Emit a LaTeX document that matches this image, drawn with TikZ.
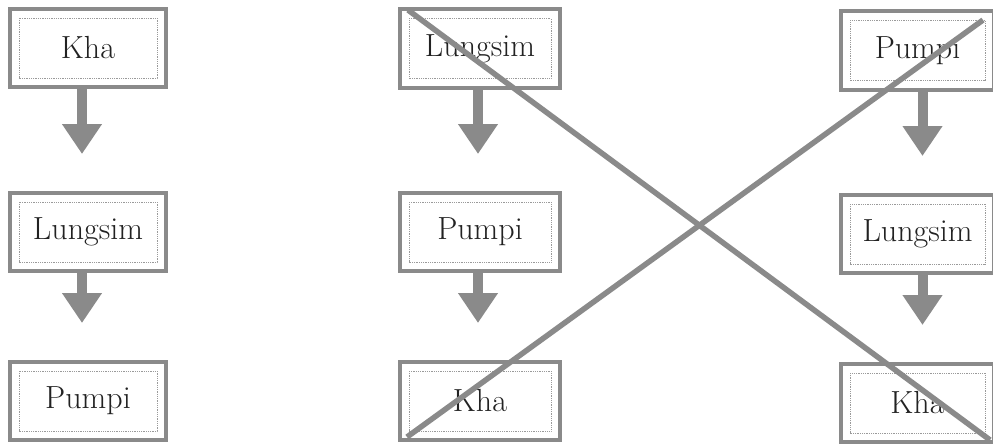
\documentclass[tikz,border=0pt]{standalone}
\usetikzlibrary{arrows.meta}
\definecolor{boxgray}{HTML}{8A8A8A}
\definecolor{dotgray}{HTML}{9A9A9A}
\definecolor{txt}{HTML}{222222}
\begin{document}
\begin{tikzpicture}[x=1pt,y=-1pt,
  flowbox/.style={draw=boxgray, line width=4pt, fill=white, text=txt,
    minimum height=78pt, inner sep=0pt,
    font=\fontsize{32}{38}\selectfont,
    path picture={\draw[dotgray, line width=0.8pt, densely dotted]
      ([shift={(9pt,-9pt)}]path picture bounding box.north west) rectangle
      ([shift={(-9pt,9pt)}]path picture bounding box.south east);}},
  flowarrow/.style={draw=boxgray, line width=10pt,
    -{Triangle[width=38pt,length=30pt]}, shorten >=37pt},
  strike/.style={draw=boxgray, line width=5.5pt}]
\clip (0,0) rectangle (993,444);
\useasboundingbox (0,0) rectangle (993,444);
% column 1
\node[flowbox, minimum width=156pt] (a1) at (88,48) {Kha};
\node[flowbox, minimum width=156pt] (a2) at (88,232) {Lungsim};
\node[flowbox, minimum width=156pt] (a3) at (88,401) {Pumpi};
% column 2
\node[flowbox, minimum width=160pt] (b1) at (480,48.5) {Lungsim};
\node[flowbox, minimum width=160pt] (b2) at (480,232) {Pumpi};
\node[flowbox, minimum width=160pt] (b3) at (480,401) {Kha};
% column 3
\node[flowbox, minimum width=153pt] (c1) at (917.5,50.5) {Pumpi};
\node[flowbox, minimum width=153pt] (c2) at (917.5,234) {Lungsim};
\node[flowbox, minimum width=153pt] (c3) at (917.5,403) {Kha};
% arrows
\draw[flowarrow] ([xshift=-6pt]a1.south) -- ([xshift=-6pt]a2.north);
\draw[flowarrow] ([xshift=-6pt]a2.south) -- ([xshift=-6pt]a3.north);
\draw[flowarrow] ([xshift=-2pt]b1.south) -- ([xshift=-2pt]b2.north);
\draw[flowarrow] ([xshift=-2pt]b2.south) -- ([xshift=-2pt]b3.north);
\draw[flowarrow] ([xshift=5pt]c1.south) -- ([xshift=5pt]c2.north);
\draw[flowarrow] ([xshift=5pt]c2.south) -- ([xshift=5pt]c3.north);
% strike-out cross
\coordinate (s1) at (408,10);
\coordinate (e1) at (990,440);
\coordinate (s2) at (983,20);
\coordinate (e2) at (407,437);
\draw[strike] (s1) -- (e1);
\draw[strike] (s2) -- (e2);
\end{tikzpicture}
\end{document}
